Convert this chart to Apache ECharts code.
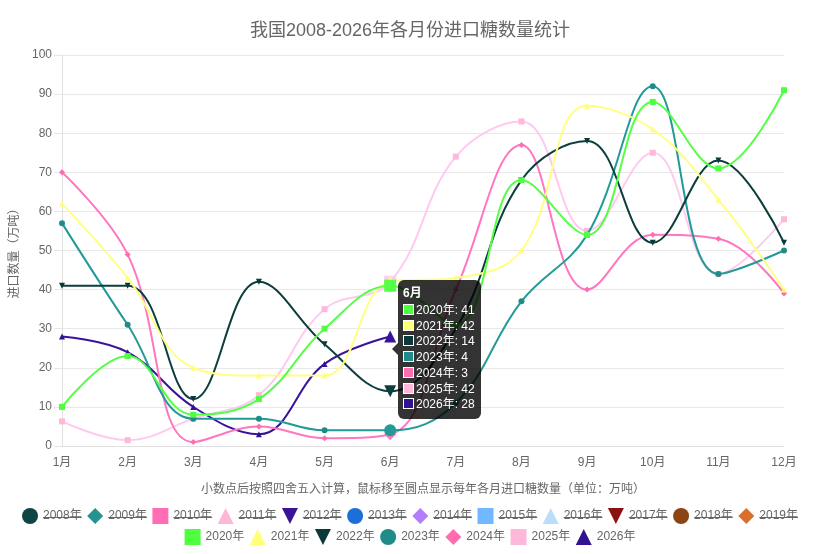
<!DOCTYPE html>
<html>
<head>
<meta charset="utf-8">
<script src="https://cdn.jsdelivr.net/npm/echarts@6/dist/echarts.min.js"></script>
<style>
  html, body { margin: 0; padding: 0; background: #fff; }
  #main { width: 820px; height: 554px; }
</style>
</head>
<body>
<div id="main"></div>
<script>
// ====== 数据 ======
const months = ['1月', '2月', '3月', '4月', '5月', '6月', '7月', '8月', '9月', '10月', '11月', '12月'];

// 图例中被隐藏(划线)的年份，没有可见数据
const hiddenYears = ['2008年', '2009年', '2010年', '2011年', '2012年', '2013年',
                     '2014年', '2015年', '2016年', '2017年', '2018年', '2019年'];

// 可见年份
const shownYears = ['2020年', '2021年', '2022年', '2023年', '2024年', '2025年', '2026年'];
const y2020 = [10, 23, 8, 12, 30, 41, 31, 68, 54, 88, 71, 91];
const y2021 = [62, 43, 20, 18, 18, 42, 43, 50, 87, 81, 63, 40];
const y2022 = [41, 41, 12, 42, 26, 14, 30, 68, 78, 52, 73, 52];
const y2023 = [57, 31, 7, 7, 4, 4, 11, 37, 54, 92, 44, 50];
const y2024 = [70, 49, 1, 5, 2, 3, 40, 77, 40, 54, 53, 39];
const y2025 = [6.3, 1.5, 7, 13, 35, 42, 74, 83, 55, 75, 44, 58];
const y2026 = [28, 24, 10, 3, 21, 28];
const shownData = [y2020, y2021, y2022, y2023, y2024, y2025, y2026];

// ====== 样式 ======
const downTri = 'path://M0,0L10,0L5,10Z';
const hiddenColors = ['#0f4545', '#279391', '#ff6eb4', '#ffb6d9', '#3a1494', '#1c6fd8',
                      '#b47cff', '#70b8ff', '#bcdcfb', '#8b1010', '#8b4513', '#d8702c'];
const hiddenIcons = ['circle', 'diamond', 'rect', 'triangle', downTri, 'circle',
                     'diamond', 'rect', 'triangle', downTri, 'circle', 'diamond'];
const shownColors = ['#4dff3f', '#ffff78', '#0b3939', '#1f8c8a', '#ff6cb0', '#ffb8da', '#33128e'];
const shownIcons = ['rect', 'triangle', downTri, 'circle', 'diamond', 'rect', 'triangle'];

const font = '"Liberation Sans", "Noto Sans CJK SC", sans-serif';
const grey = '#666';

function initChart() {
    const dom = document.getElementById('main');
    const myChart = echarts.init(dom);

    const hiddenSeries = hiddenYears.map((name, i) => ({
        name: name,
        type: 'line',
        data: [],
        symbol: hiddenIcons[i],
        itemStyle: { color: hiddenColors[i] },
        lineStyle: { color: hiddenColors[i] }
    }));

    const shownSeries = shownYears.map((name, i) => ({
        name: name,
        type: 'line',
        data: shownData[i],
        smooth: 0.4,
        symbol: shownIcons[i],
        symbolSize: 6,
        showSymbol: true,
        z: 20 - i, // 前面的年份画在上层
        itemStyle: { color: shownColors[i] },
        lineStyle: { color: shownColors[i], width: 2 },
        emphasis: { scale: 2, lineStyle: { width: 2 } }
    }));

    const legendCommon = {
        left: 'center',
        itemWidth: 16,
        itemHeight: 16,
        itemGap: 5.5,
        selectedMode: false,
        textStyle: { color: grey, fontSize: 12, fontFamily: font }
    };

    const caret = '<div style="position:absolute;left:-6px;top:63px;width:0;height:0;' +
        'border-top:6px solid transparent;border-bottom:6px solid transparent;' +
        'border-right:6px solid rgba(0,0,0,0.8);"></div>';

    const option = {
        animation: false,
        textStyle: { fontFamily: font },
        title: {
            text: '我国2008-2026年各月份进口糖数量统计',
            left: 'center',
            top: 17,
            textStyle: { color: grey, fontSize: 18, fontWeight: 'normal', fontFamily: font }
        },
        tooltip: {
            trigger: 'axis',
            alwaysShowContent: true,
            transitionDuration: 0,
            position: [398, 280],
            padding: 0,
            backgroundColor: 'rgba(0,0,0,0.8)',
            borderWidth: 0,
            extraCssText: 'box-shadow:none;border-radius:6px;',
            textStyle: { color: '#fff', fontSize: 12, fontFamily: font },
            axisPointer: { type: 'none' },
            formatter: (params) => {
                const rows = params.filter(p => p.value !== undefined && p.value !== null && p.value !== '-');
                if (!rows.length) return '';
                let html = '<div style="position:relative;padding:5px 6px 6px 5px;">' + caret;
                html += `<div style="font-weight:bold;line-height:16px;margin-bottom:2px;">${rows[0].axisValue}</div>`;
                rows.forEach(p => {
                    html += `<div style="line-height:15.7px;white-space:nowrap;">` +
                        `<span style="display:inline-block;width:9px;height:9px;background:${p.color};` +
                        `border:1px solid #fff;vertical-align:-1px;margin-right:2px;"></span>` +
                        `${p.seriesName}: ${Math.round(p.value)}</div>`;
                });
                return html + '</div>';
            }
        },
        legend: [
            Object.assign({ top: 503, data: hiddenYears.map((n, i) => ({ name: n, icon: hiddenIcons[i] })) }, legendCommon),
            Object.assign({ top: 524, data: shownYears.map((n, i) => ({ name: n, icon: shownIcons[i] })) }, legendCommon)
        ],
        grid: { left: 62, right: 36, top: 55, bottom: 108, outerBoundsMode: 'none' },
        xAxis: {
            type: 'category',
            boundaryGap: false,
            data: months,
            name: '小数点后按照四舍五入计算，鼠标移至圆点显示每年各月进口糖数量（单位：万吨）',
            nameLocation: 'middle',
            nameGap: 38,
            nameTextStyle: { color: grey, fontSize: 12 },
            axisLine: { lineStyle: { color: '#e0e0e0' } },
            axisTick: { show: false },
            axisLabel: { color: grey, fontSize: 12, margin: 11 },
            splitLine: { show: false }
        },
        yAxis: {
            type: 'value',
            min: 0, max: 100, interval: 10,
            name: '进口数量（万吨）',
            nameLocation: 'middle',
            nameGap: 36,
            nameTextStyle: { color: grey, fontSize: 12 },
            axisLine: { show: true, lineStyle: { color: '#e0e0e0' } },
            axisTick: { show: true, length: 8, lineStyle: { color: '#e6e6e6' } },
            axisLabel: { color: grey, fontSize: 12, margin: 10 },
            splitLine: { lineStyle: { color: '#e8e8e8' } }
        },
        series: hiddenSeries.concat(shownSeries)
    };

    myChart.setOption(option);

    // 图例里隐藏年份加删除线
    const zr = myChart.getZr();
    const struck = new Set(hiddenYears);
    zr.storage.getRoots().forEach(root => {
        const visit = (el) => {
            if (el.type === 'text' && el.style && struck.has(el.style.text)) {
                const rect = el.getBoundingRect().clone();
                const m = el.getComputedTransform();
                if (m) rect.applyTransform(m);
                const cy = Math.round(rect.y + rect.height * 0.55) + 0.5;
                zr.add(new echarts.graphic.Line({
                    shape: { x1: rect.x, y1: cy, x2: rect.x + rect.width, y2: cy },
                    style: { stroke: grey, lineWidth: 1 },
                    z: 100
                }));
            }
        };
        if (root.traverse) root.traverse(visit); else visit(root);
    });

    // 固定显示 6月 的提示框
    const shownIdx = shownYears.map((n, i) => hiddenYears.length + i);
    myChart.dispatchAction({ type: 'showTip', seriesIndex: hiddenYears.length, dataIndex: 5 });
    myChart.dispatchAction({ type: 'highlight', seriesIndex: shownIdx, dataIndex: 5 });
    return myChart;
}

window.onload = () => {
    const chart = initChart();
    window.addEventListener('resize', () => chart.resize());
};
</script>
</body>
</html>
